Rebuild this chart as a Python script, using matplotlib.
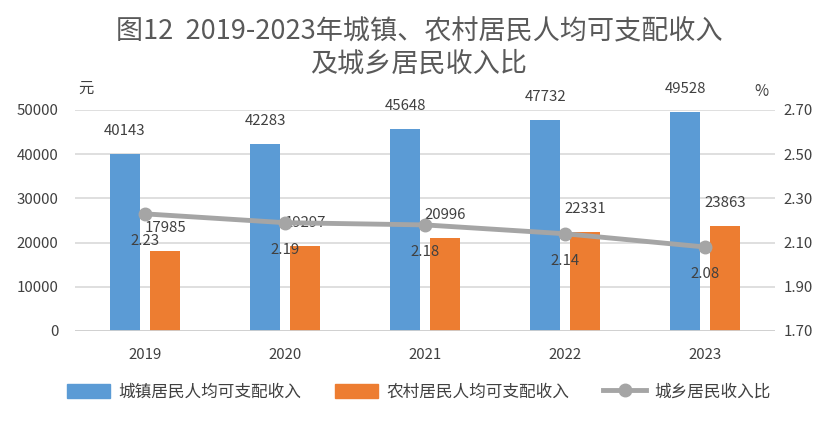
import matplotlib
matplotlib.use("Agg")
import matplotlib.pyplot as plt
import numpy as np
from matplotlib.lines import Line2D
from matplotlib.patches import Patch

plt.rcParams['font.family'] = ['Noto Sans CJK SC', 'DejaVu Sans']

years = ['2019', '2020', '2021', '2022', '2023']
urban = [40143, 42283, 45648, 47732, 49528]
rural = [17985, 19297, 20996, 22331, 23863]
ratio = [2.23, 2.19, 2.18, 2.14, 2.08]
left_ticks = [0, 10000, 20000, 30000, 40000, 50000]
right_ticks = [1.70, 1.90, 2.10, 2.30, 2.50, 2.70]

blue = '#5B9BD5'
orange = '#ED7D31'
gray = '#A5A5A5'
txt = '#404040'

fig = plt.figure(figsize=(8.38, 4.23), dpi=100)
ax = fig.add_axes([0.0895, 0.2175, 0.8355, 0.5225])
ax2 = ax.twinx()

x = np.arange(len(years))
w = 0.214
off = 0.143
ax.bar(x - off, urban, w, color=blue, zorder=2)
ax.bar(x + off, rural, w, color=orange, zorder=2)
ax.set_xlim(-0.5, len(years) - 0.5)
ax.set_ylim(0, 50000)
ax.set_yticks(left_ticks)
ax.set_yticklabels([str(v) for v in left_ticks])
ax.yaxis.grid(True, color='#D9D9D9', linewidth=1.2, zorder=0)
ax.set_axisbelow(True)
ax.set_xticks(x)
ax.set_xticklabels(years)
for s in ax.spines.values():
    s.set_visible(False)
for s in ax2.spines.values():
    s.set_visible(False)
ax.axhline(0, color='#D0D0D0', linewidth=2, zorder=3)
ax.tick_params(axis='both', length=0, labelsize=10.8, colors=txt)
ax.tick_params(axis='x', pad=12)
ax.tick_params(axis='y', pad=12)

for xi, v in zip(x, urban):
    ax.annotate(str(v), (xi - off, v), xytext=(0, 23), textcoords='offset pixels',
                ha='center', va='center', fontsize=10.8, color=txt, zorder=5)
for xi, v in zip(x, rural):
    ax.annotate(str(v), (xi + off, v), xytext=(0, 23), textcoords='offset pixels',
                ha='center', va='center', fontsize=10.8, color=txt, zorder=5)

ax2.set_ylim(1.70, 2.70)
ax2.set_yticks(right_ticks)
ax2.set_yticklabels([f'{v:.2f}' for v in right_ticks])
ax2.tick_params(axis='y', length=0, labelsize=10.8, colors=txt, pad=6)
ax2.plot(x, ratio, color=gray, linewidth=3.5, marker='o', markersize=9, zorder=4)
for xi, v in zip(x, ratio):
    ax2.annotate(f'{v:.2f}', (xi, v), xytext=(0, -27), textcoords='offset pixels',
                 ha='center', va='center', fontsize=10.8, color=txt, zorder=5)

fig.text(0.5, 0.925, '图12  2019-2023年城镇、农村居民人均可支配收入', ha='center', va='center',
         fontsize=19.5, color='#595959')
fig.text(0.5, 0.848, '及城乡居民收入比', ha='center', va='center', fontsize=19.5, color='#595959')
fig.text(0.093, 0.792, '元', ha='left', va='center', fontsize=11, color=txt)
fig.text(0.900, 0.783, '%', ha='left', va='center', fontsize=11, color=txt)

handles = [Patch(color=blue), Patch(color=orange),
           Line2D([0], [0], color=gray, linewidth=3.5, marker='o', markersize=9)]
labels = ['城镇居民人均可支配收入', '农村居民人均可支配收入', '城乡居民收入比']
fig.legend(handles, labels, loc='center', bbox_to_anchor=(0.5, 0.073), ncol=3, frameon=False,
           fontsize=12, labelcolor=txt, handlelength=2.6, handleheight=1.0, columnspacing=2.0,
           handletextpad=0.5)

fig.savefig('out.png', dpi=100)
